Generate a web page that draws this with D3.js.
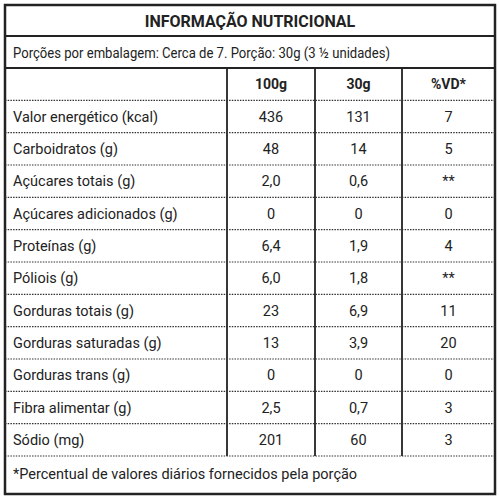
<!DOCTYPE html><html><head><meta charset="utf-8"><script src="https://d3js.org/d3.v7.min.js"></script>
<style>body{margin:0;background:#fff}</style></head><body><svg id="c" width="500" height="500"></svg>
<script>
const title="INFORMAÇÃO NUTRICIONAL";
const portion="Porções por embalagem: Cerca de 7. Porção: 30g (3 ½ unidades)";
const headers=["100g","30g","%VD*"];
const nutrients=["Valor energético (kcal)","Carboidratos (g)","Açúcares totais (g)","Açúcares adicionados (g)","Proteínas (g)","Póliois (g)","Gorduras totais (g)","Gorduras saturadas (g)","Gorduras trans (g)","Fibra alimentar (g)","Sódio (mg)"];
const per100=["436","48","2,0","0","6,4","6,0","23","13","0","2,5","201"];
const per30=["131","14","0,6","0","1,9","1,8","6,9","3,9","0","0,7","60"];
const vd=["7","5","**","0","4","**","11","20","0","3","3"];
const footnote="*Percentual de valores diários fornecidos pela porção";

const svg=d3.select("#c"),F="Roboto, sans-serif";
const L=5,R=495,T=5,B=494;
const colX=[L,227,315,402,R];
const y=d3.scaleBand().domain(d3.range(nutrients.length+1)).range([68,456]);
const g=svg.append("g").attr("font-family",F).attr("fill","#222");
svg.append("rect").attr("x",L).attr("y",T).attr("width",R-L).attr("height",B-T).attr("fill","none").attr("stroke","#222").attr("stroke-width",2.5);
svg.append("line").attr("x1",L).attr("x2",R).attr("y1",36).attr("y2",36).attr("stroke","#222").attr("stroke-width",2);
svg.append("line").attr("x1",L).attr("x2",R).attr("y1",68).attr("y2",68).attr("stroke","#222").attr("stroke-width",2);
colX.slice(1,4).forEach(x=>svg.append("line").attr("x1",x).attr("x2",x).attr("y1",68).attr("y2",456).attr("stroke","#222").attr("stroke-width",1.8));
d3.range(1,nutrients.length+2).forEach(i=>{const yy=i<=nutrients.length?y(i):456;
 svg.append("line").attr("x1",L).attr("x2",R).attr("y1",yy).attr("y2",yy).attr("stroke","#333").attr("stroke-width",1.2).attr("stroke-dasharray","1.5,1.2");});
g.append("text").attr("x",250).attr("y",27).attr("text-anchor","middle").attr("font-size",16).attr("font-weight","bold").text(title);
g.append("text").attr("x",13).attr("y",58).attr("font-size",14).attr("textLength",377).attr("lengthAdjust","spacingAndGlyphs").text(portion);
headers.forEach((h,j)=>g.append("text").attr("x",(colX[j+1]+colX[j+2])/2).attr("y",y(0)+y.bandwidth()/2+5).attr("text-anchor","middle").attr("font-size",14).attr("font-weight","bold").text(h));
nutrients.forEach((n,i)=>{const yy=y(i+1)+y.bandwidth()/2+5;
 g.append("text").attr("x",13).attr("y",yy).attr("font-size",14.5).text(n);
 [per100[i],per30[i],vd[i]].forEach((v,j)=>g.append("text").attr("x",(colX[j+1]+colX[j+2])/2).attr("y",yy).attr("text-anchor","middle").attr("font-size",14.5).text(v));});
g.append("text").attr("x",13).attr("y",479).attr("font-size",14.5).text(footnote);
</script></body></html>
